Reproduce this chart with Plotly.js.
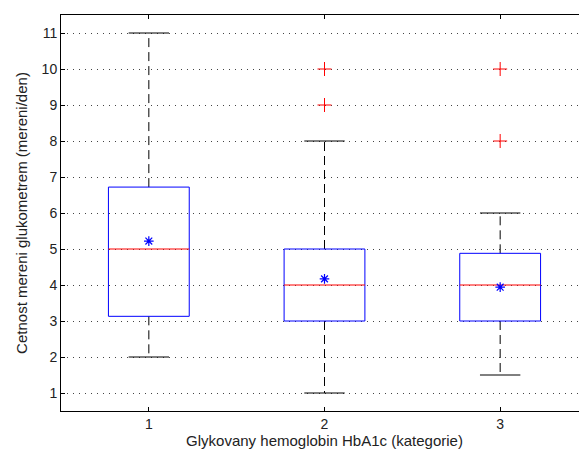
<!DOCTYPE html>
<html>
<head>
<meta charset="utf-8">
<script src="https://cdn.plot.ly/plotly-3.0.1.min.js"></script>
<style>
  html, body { margin: 0; padding: 0; overflow: hidden; background: #fff; }
  #chart { width: 600px; height: 450px; }
</style>
</head>
<body>
<div id="chart"></div>
<script>
// HbA1c categories and box statistics for daily glucometer measurements
const categories = [1, 2, 3];
const q1 = [3.13, 3, 3];
const medians = [5, 4, 4];
const q3 = [6.72, 5, 4.88];
const lowerWhisker = [2, 1, 1.5];
const upperWhisker = [11, 8, 6];
const means = [5.22, 4.17, 3.94];
const outlierCategory = [2, 2, 3, 3];
const outlierValue = [9, 10, 8, 10];
const tickValues = [1, 2, 3, 4, 5, 6, 7, 8, 9, 10, 11];

const boxHalf = 0.23;
const capHalf = 0.115;

// Build polyline coordinates (segments separated by nulls)
const boxX = [], boxY = [], medX = [], medY = [];
const whiskX = [], whiskY = [], capX = [], capY = [];
categories.forEach((c, i) => {
  boxX.push(c - boxHalf, c + boxHalf, c + boxHalf, c - boxHalf, c - boxHalf, null);
  boxY.push(q1[i], q1[i], q3[i], q3[i], q1[i], null);
  medX.push(c - boxHalf, c + boxHalf, null);
  medY.push(medians[i], medians[i], null);
  whiskX.push(c, c, null, c, c, null);
  whiskY.push(q3[i], upperWhisker[i], null, q1[i], lowerWhisker[i], null);
  capX.push(c - capHalf, c + capHalf, null, c - capHalf, c + capHalf, null);
  capY.push(upperWhisker[i], upperWhisker[i], null, lowerWhisker[i], lowerWhisker[i], null);
});

const traces = [
  { x: whiskX, y: whiskY, mode: 'lines', line: { color: '#000', width: 1, dash: '9px,5px' }, hoverinfo: 'skip' },
  { x: capX, y: capY, mode: 'lines', line: { color: '#000', width: 1 }, hoverinfo: 'skip' },
  { x: boxX, y: boxY, mode: 'lines', line: { color: '#0000ff', width: 1 }, hoverinfo: 'skip' },
  { x: medX, y: medY, mode: 'lines', line: { color: '#ff0000', width: 1 }, hoverinfo: 'skip' },
  { x: outlierCategory, y: outlierValue, mode: 'markers',
    marker: { symbol: 'cross-thin-open', size: 10, color: '#ff0000', line: { color: '#ff0000', width: 1 } } },
  { x: categories, y: means, mode: 'markers',
    marker: { symbol: 'asterisk-open', size: 8, color: '#0000ff', line: { color: '#0000ff', width: 1.2 } } }
];

const layout = {
  width: 600,
  height: 450,
  margin: { l: 61, r: 12, t: 15, b: 39 },
  showlegend: false,
  paper_bgcolor: '#fff',
  plot_bgcolor: '#fff',
  font: { family: 'Liberation Sans, Arial, sans-serif', size: 14, color: '#000' },
  xaxis: {
    range: [0.5, 3.5],
    tickvals: categories,
    ticktext: categories.map(String),
    ticks: 'inside',
    ticklen: 4,
    tickcolor: '#000',
    showgrid: false,
    zeroline: false,
    showline: true,
    linecolor: '#000',
    linewidth: 1,
    mirror: 'ticks',
    tickfont: { size: 14, color: '#222' },
    title: { text: 'Glykovany hemoglobin HbA1c (kategorie)', standoff: 1, font: { size: 15, color: '#222' } }
  },
  yaxis: {
    range: [0.5, 11.5],
    tickvals: tickValues,
    ticks: 'inside',
    ticklen: 4,
    tickcolor: '#000',
    showgrid: true,
    gridcolor: '#444',
    griddash: '1px,5px',
    gridwidth: 1,
    zeroline: false,
    showline: true,
    linecolor: '#000',
    linewidth: 1,
    mirror: 'ticks',
    tickfont: { size: 14, color: '#222' },
    title: { text: 'Cetnost mereni glukometrem (mereni/den)', standoff: 10, font: { size: 15, color: '#222' } }
  }
};

Plotly.newPlot('chart', traces, layout, { displayModeBar: false, staticPlot: true });
</script>
</body>
</html>
